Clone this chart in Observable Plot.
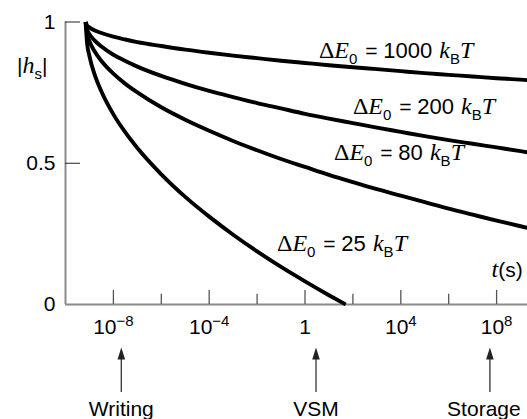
<!DOCTYPE html>
<html><head><meta charset="utf-8">
<script src="https://cdn.jsdelivr.net/npm/d3@7"></script>
<script src="https://cdn.jsdelivr.net/npm/@observablehq/plot@0.6"></script>
<style>body{margin:0;background:#fff}#chart svg{display:block}</style>
</head><body><div id="chart"></div>
<script>
// ---- data ----
const energies = [1000, 200, 80, 25];               // ΔE0 in kBT
const logTime = [-9.16, -9.1, -9, -8.8, -8.5, -8, -7.5, -7, -6, -5, -4, -3, -2, -1, 0, 1, 2, 3, 4, 5, 6, 7, 8, 9, 9.29];
const h1000 = [1, .988, .981, .971, .961, .948, .938, .929, .915, .902, .891, .881, .872, .863, .855, .847, .840, .833, .826, .819, .813, .807, .801, .796, .794];
const h200  = [1, .974, .957, .936, .913, .884, .862, .842, .809, .781, .756, .734, .713, .694, .675, .658, .642, .626, .611, .596, .582, .569, .556, .543, .539];
const h80   = [1, .959, .932, .898, .862, .817, .781, .751, .698, .654, .615, .579, .546, .515, .487, .459, .433, .408, .385, .362, .339, .318, .297, .277, .271];
const logTime25 = [-9.16, -9.1, -9, -8.8, -8.5, -8, -7.5, -7, -6, -5, -4, -3, -2, -1, 0, 1, 1.7];
const h25   = [1, .926, .879, .818, .754, .673, .609, .554, .461, .381, .311, .247, .188, .133, .082, .033, 0];
const majorTickExp = [-8, -4, 0, 4, 8];
const minorTickExp = [-6, -2, 2, 6];
const yTicks = [0, 0.5, 1];
const regimes = ["Writing", "VSM", "Storage"];
const regimeLogTime = [-7.67, 0.46, 7.72];
const labelLogTime = [0.58, 2.0, 1.21, -1.17];   // where each ΔE0 label starts
const labelH = [0.874, 0.673, 0.510, 0.191];

// ---- build table ----
const seriesH = [h1000, h200, h80, h25];
const seriesT = [logTime, logTime, logTime, logTime25];
const rows = [];
energies.forEach((E, i) => seriesH[i].forEach((h, j) => rows.push({E, t: 10 ** seriesT[i][j], h})));

// rich text definitions
const rich = new Map();
function addRich(parts) { const key = parts.map(p => p.t).join(""); rich.set(key, parts); return key; }
const curveLabels = energies.map((E, i) => ({
  t: 10 ** labelLogTime[i], h: labelH[i],
  text: addRich([{t: "Δ", k: "serif"}, {t: "E", k: "it"}, {t: "0", k: "sub"}, {t: " = ", dx: 2}, {t: E + " ", fs: 22}, {t: "k", k: "it", dx: 1}, {t: "B", k: "sub"}, {t: "T", k: "it"}])
}));
const tickText = e => e === 0 ? "1" : addRich([{t: "10"}, {t: (e < 0 ? "−" : "") + Math.abs(e), k: "sup"}]);
const yLabel = addRich([{t: "|"}, {t: "h", k: "it"}, {t: "s", k: "sub"}, {t: "|"}]);
const xLabel = addRich([{t: "t", k: "it"}, {t: "(s)"}]);

const arrowHead = {draw(ctx) { ctx.moveTo(0, 0); ctx.lineTo(3.8, 12); ctx.lineTo(-3.8, 12); ctx.closePath(); }};
const FS = 21;

const chart = Plot.plot({
  width: 527, height: 419,
  marginLeft: 65, marginRight: 0, marginTop: 21.5, marginBottom: 115,
  style: {fontFamily: "'Liberation Sans', Arial, sans-serif", fontSize: FS + "px", background: "#fff"},
  x: {type: "log", domain: [1e-10, 10 ** 9.29], axis: null},
  y: {domain: [0, 1], axis: null},
  marks: [
    Plot.ruleY([0], {stroke: "#8a8a8a", strokeWidth: 2}),
    Plot.ruleX([1e-10], {y1: 0, y2: 1, stroke: "#8a8a8a", strokeWidth: 2}),
    Plot.ruleX(majorTickExp, {x: e => 10 ** e, y1: 0, y2: 0.05, stroke: "#555", strokeWidth: 1.3}),
    Plot.ruleX(minorTickExp, {x: e => 10 ** e, y1: 0, y2: 0.036, stroke: "#555", strokeWidth: 1.3}),
    Plot.ruleY([0.5, 1], {y: d => d, x1: 1e-10, x2: 10 ** -9.375, stroke: "#222", strokeWidth: 1}),
    Plot.line(rows, {x: "t", y: "h", z: "E", stroke: "#000", strokeWidth: 3.9, curve: "monotone-x", strokeLinecap: "butt", strokeLinejoin: "round"}),
    Plot.text(yTicks, {x: 1e-10, y: d => d, text: d => String(d), dx: -10, textAnchor: "end", lineAnchor: "middle", fontSize: FS}),
    Plot.text(majorTickExp, {x: e => 10 ** e, y: 0, text: tickText, dy: 29, lineAnchor: "bottom", fontSize: FS}),
    Plot.text([yLabel], {x: 1e-10, y: 0.821, text: d => d, dx: -18, textAnchor: "end", lineAnchor: "bottom", fontSize: FS}),
    Plot.text([xLabel], {x: 10 ** 7.79, y: 0.099, text: d => d, textAnchor: "start", lineAnchor: "bottom", fontSize: FS}),
    Plot.text(curveLabels, {x: "t", y: "h", text: "text", textAnchor: "start", lineAnchor: "bottom", fontSize: FS}),
    Plot.ruleX(regimeLogTime, {x: e => 10 ** e, y1: -0.3115, y2: -0.19, stroke: "#333", strokeWidth: 1.3}),
    Plot.dot(regimeLogTime, {x: e => 10 ** e, y: -0.152, symbol: arrowHead, fill: "#222"}),
    Plot.text(regimes.slice(0, 2), {x: (d, i) => 10 ** regimeLogTime[i], y: 0, dy: 111, text: d => d, lineAnchor: "bottom", fontSize: FS}),
    Plot.text(regimes.slice(2), {x: () => 10 ** regimeLogTime[2], y: 0, dy: 111, dx: -6, text: d => d, lineAnchor: "bottom", fontSize: FS})
  ]
});

// turn marked-up labels into real text with italics, sub- and superscripts
const NS = "http://www.w3.org/2000/svg";
function setRich(el, parts) {
  while (el.firstChild) el.removeChild(el.firstChild);
  let shift = 0;
  for (const p of parts) {
    const s = document.createElementNS(NS, "tspan");
    s.textContent = p.t;
    const target = p.k === "sub" ? 6 : p.k === "sup" ? -8 : 0;
    if (target !== shift) { s.setAttribute("dy", target - shift); shift = target; }
    if (p.dx) s.setAttribute("dx", p.dx);
    if (p.fs) s.setAttribute("font-size", p.fs);
    if (p.k === "sub" || p.k === "sup") s.setAttribute("font-size", 15);
    if (p.k === "it" || p.k === "serif") {
      s.setAttribute("font-family", "'Liberation Serif', 'Times New Roman', serif");
      s.setAttribute("font-size", 24);
      if (p.k === "it") s.setAttribute("font-style", "italic");
    }
    el.appendChild(s);
  }
}
chart.querySelectorAll("text").forEach(el => {
  const key = el.textContent;
  if (rich.has(key)) setRich(el, rich.get(key));
});
document.getElementById("chart").appendChild(chart);
</script>
</body></html>
